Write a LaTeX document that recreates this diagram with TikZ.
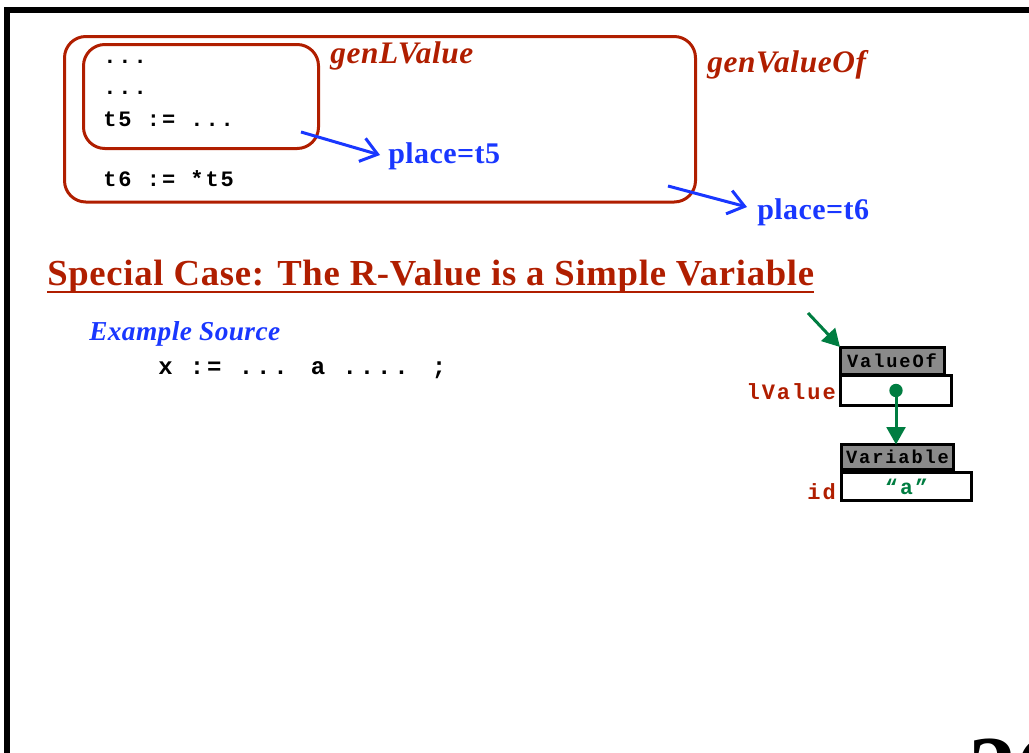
\documentclass[tikz,border=0pt]{standalone}
\usepackage{fontspec}
\setmainfont{Liberation Serif}
\newfontfamily\codefont{Liberation Mono}
\usetikzlibrary{arrows.meta}
\definecolor{slidered}{RGB}{176,30,0}
\definecolor{slideblue}{RGB}{25,55,255}
\definecolor{slidegreen}{RGB}{0,125,65}
\definecolor{slidegray}{RGB}{138,138,138}
\newcommand\monofont[2]{\codefont\bfseries\fontsize{#1}{#1}\selectfont\addfontfeature{LetterSpace=#2}}
\newcommand\seriffont[2]{\bfseries\fontsize{#1}{#1}\selectfont\addfontfeature{LetterSpace=#2}}
\tikzset{
  codeline/.style={anchor=base west, inner sep=0pt, font=\monofont{16.5}{9}},
  proc/.style={draw=slidered, line width=2.25pt, rounded corners=16pt},
  proclabel/.style={anchor=base west, inner sep=0pt, text=slidered, font=\itshape\seriffont{23.5}{2}},
  placelabel/.style={anchor=base west, inner sep=0pt, text=slideblue, font=\seriffont{22.5}{1.5}},
  placearrow/.style={draw=slideblue, line width=2.25pt, -{Straight Barb[length=12pt,width=18pt,line width=2.25pt]}},
  header/.style={draw=black, line width=2.25pt, fill=slidegray, inner sep=0pt, outer sep=0pt, font=\monofont{14}{10}},
  field/.style={draw=black, line width=2.25pt, fill=white, inner sep=0pt, outer sep=0pt, font=\monofont{16}{10}},
  fieldname/.style={anchor=base east, inner sep=0pt, text=slidered, font=\monofont{16.5}{9}},
  ptr/.style={draw=slidegreen, line width=2.25pt, -{Triangle[length=13pt,width=14pt]}}
}
\begin{document}
\begin{tikzpicture}[x=0.75pt,y=-0.75pt]
\useasboundingbox (0,0) rectangle (1029,753);
\clip (0,0) rectangle (1029,753);

% slide frame
\draw[line width=4.5pt] (6.5,10) rectangle (1060,800);

% generated code and the procedures that produce it
\draw[proc] (64.5,36.5) rectangle (695.5,202);
\draw[proc] (83.5,44.5) rectangle (318.5,148.5);
\node[codeline] (l1) at (103,63) {...};
\node[codeline] (l2) at (103,94) {...};
\node[codeline] (l3) at (103,126) {t5 := ...};
\node[codeline] (l4) at (103,186) {t6 := *t5};
\node[proclabel] (glv) at (330,63) {genLValue};
\node[proclabel] (gvo) at (707,72) {genValueOf};

\node[placelabel] (pt5) at (388,163) {place=t5};
\node[placelabel] (pt6) at (757,219) {place=t6};
\coordinate (s5) at (301,132);
\coordinate (s6) at (668,186);
\draw[placearrow] (s5) -- (380,155);
\draw[placearrow] (s6) -- (747,207);

% heading
\node[anchor=base west, inner sep=0pt, text=slidered, font=\seriffont{27.5}{2}] (head) at (47,285) {Special Case: The R-Value is a Simple Variable};
\draw[slidered, line width=1.9pt] ([yshift=-5.25pt]head.base west) -- ([yshift=-5.25pt]head.base east);

\node[anchor=base west, inner sep=0pt, text=slideblue, font=\itshape\seriffont{20.5}{1.5}] (ex) at (89,340) {Example Source};
\node[anchor=base west, inner sep=0pt, font=\monofont{18}{12}] (src) at (158,374) {x := ... a .... ;};

% abstract syntax tree
\node[header, minimum width=78pt, minimum height=20.25pt] (vo) at (892,360.5) {ValueOf};
\node[field, minimum width=83.25pt, minimum height=22.5pt] (lv) at (896,390.5) {};
\node[header, minimum width=84pt, minimum height=18.75pt] (var) at (897.5,457) {Variable};
\node[field, minimum width=97.5pt, minimum height=21pt, text=slidegreen] (idf) at (906.5,486.5) {“a”};
\node[fieldname] (lvl) at (836,399) {lValue};
\node[fieldname] (idl) at (836,499) {id};

\coordinate (entry) at (808,313);
\draw[ptr] (entry) -- (vo.north west);
\fill[slidegreen] (lv.center) circle (5pt);
\draw[ptr] (lv.center) -- (lv.center |- var.north);

% page number
\node[anchor=base west, inner sep=0pt, font=\bfseries\fontsize{72}{72}\selectfont] (pg) at (968,802) {26};
\end{tikzpicture}
\end{document}
